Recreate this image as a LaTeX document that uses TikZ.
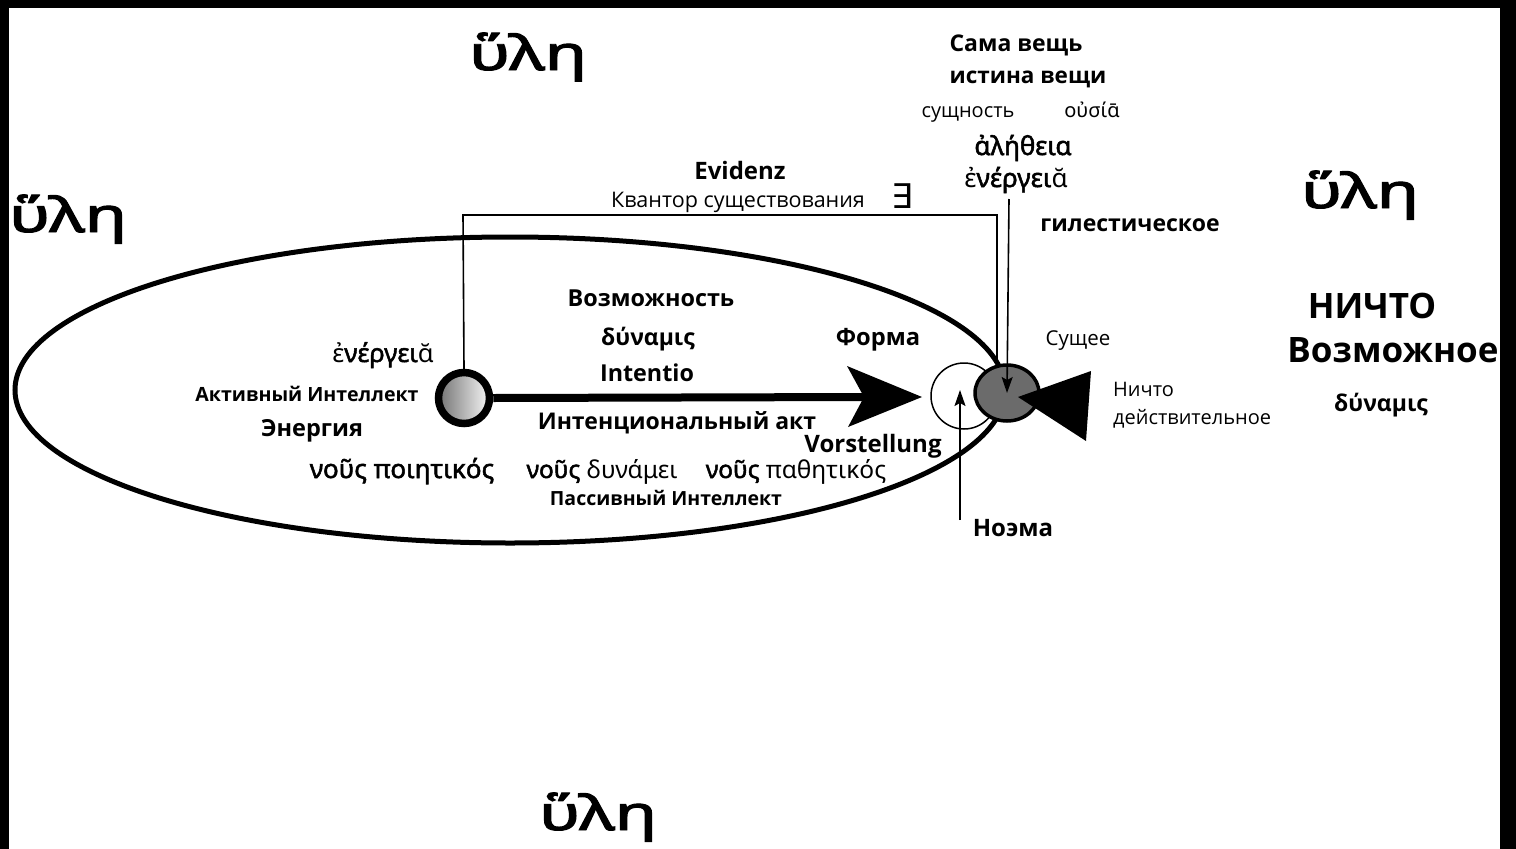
\documentclass[tikz,border=0pt]{standalone}
\usepackage{fontspec}
\setmainfont{Open Sans}
\newfontfamily\gr{Noto Sans}[BoldFont={Noto Sans}, BoldFeatures={FakeBold=2}]
\newfontfamily\symfont{DejaVu Sans}
\usetikzlibrary{arrows.meta,shapes.geometric}
\tikzset{
  rg/.style={inner sep=0pt, anchor=base, font=\fontsize{#1}{#1}\selectfont},
  bd/.style={inner sep=0pt, anchor=base, font=\fontsize{#1}{#1}\selectfont\bfseries},
  hyle/.style={inner sep=0pt, anchor=base, font=\fontsize{48}{48}\selectfont\gr\bfseries, xscale=1.45},
  thinline/.style={line width=1.6pt},
  headtip/.style={-{Stealth[length=16pt,width=11pt,inset=3pt]}},
}
\begin{document}
\begin{tikzpicture}[x=1pt,y=-1pt]
\useasboundingbox (0,0) rectangle (1516,849);
\fill[white] (0,0) rectangle (1516,849);
% frame strips
\fill[black] (0,0) rectangle (1516,8);
\fill[black] (1500,0) rectangle (1516,849);
\fill[black] (0,0) rectangle (9,849);
% big ellipse
\draw[line width=5pt] (510,390) ellipse [x radius=495, y radius=153];
% rectangle connector
\coordinate (rtl) at (463,215);
\coordinate (rtr) at (997,215);
\coordinate (rbr) at (997,366);
% active intellect circle
\node[circle, minimum size=51pt, inner sep=0pt, line width=7.5pt, draw=black,
      left color=black!55, right color=black!3] (act) at (464,398) {};
\draw[thinline] (act.north) -- (rtl) -- (rtr) -- (rbr);
% noema white circle
\node[circle, minimum size=66pt, inner sep=0pt, draw=black, line width=1.5pt, fill=white] (noemac) at (964,396) {};
% grey ellipse (Сущее)
\node[ellipse, minimum width=64pt, minimum height=56pt, inner sep=0pt, draw=black, line width=3.5pt, fill=black!58] (being) at (1007,393) {};
% main arrow
\coordinate (mtip) at (922,397);
\draw[line width=8pt] (act.east) -- (865,397);
\fill[black] (mtip) -- (847,366) -- (864,397) -- (848,427) -- cycle;
% left-pointing triangle
\fill[black] (1018,397) -- (1091,371) -- (1086,441) -- cycle;
% noema arrow
\coordinate (noemabot) at (960,520);
\draw[thinline, headtip] (noemabot) -- (960,390);
% top arrow into being
\coordinate (toptop) at (1009,199);
\draw[thinline, headtip] (toptop) -- (being.center);

% hyle
\node[hyle] (h1) at (528,70) {ὕλη};
\node[hyle] (h2) at (68,232) {ὕλη};
\node[hyle] (h3) at (1360,208) {ὕλη};
\node[hyle] (h4) at (598,830) {ὕλη};

% top right texts
\node[bd=23] (sama) at (1016,51) {Сама вещь};
\node[bd=22.5] (istina) at (1028,83) {истина вещи};
\node[rg=20] (sushch) at (968,117) {сущность};
\node[rg=20] (ousia) at (1092,117) {\gr οὐσίᾱ};
\node[bd=26] (aleth) at (1023,155) {\gr ἀλήθεια};
\node[rg=26] (energ1) at (1016,187) {\gr ἐ\textbf{νέργει}ᾰ};
\node[bd=23] (gil) at (1130,231) {гилестическое};

\node[bd=24] (evid) at (740,179) {Evidenz};
\node[rg=21.5] (kvant) at (738,207) {Квантор существования};
\node[rg=34] (exists) at (902,208) {\symfont ∃};

\node[bd=23.4] (vozm) at (651,306) {Возможность};
\node[bd=23] (dyn1) at (648,345) {δύναμις};
\node[bd=23.3] (inten) at (647,381) {Intentio};
\node[bd=23.7] (forma) at (878,345) {Форма};

\node[rg=25.5] (energ2) at (383,362) {\gr ἐ\textbf{νέργει}ᾰ};
\node[bd=19.6] (aktiv) at (307,401) {Активный Интеллект};
\node[bd=23.5] (energia) at (312,436) {Энергия};
\node[bd=26] (nous1) at (402,478) {\gr νοῦς ποιητικός};
\node[bd=23] (iakt) at (677,429) {Интенциональный акт};
\node[bd=24] (vorst) at (873,452) {Vorstellung};
\node[rg=24.5] (nous2) at (602,478) {\gr\textbf{νοῦς} δυνάμει};
\node[rg=24.5] (nous3) at (796,478) {\gr\textbf{νοῦς} παθητικός};
\node[bd=19.5] (passiv) at (666,505) {Пассивный Интеллект};

\node[rg=20.5] (sushchee) at (1078,345) {Сущее};
\node[rg=20, anchor=base west] (nichto1) at (1113,396) {Ничто};
\node[rg=20, anchor=base west] (deistv) at (1113,424) {действительное};
\node[bd=24] (noema) at (1013,536) {Ноэма};

\node[bd=35] (nichto2) at (1372,318) {НИЧТО};
\node[bd=35] (vozmn) at (1393,362) {Возможное};
\node[bd=23] (dyn2) at (1381,411) {δύναμις};
\end{tikzpicture}
\end{document}
